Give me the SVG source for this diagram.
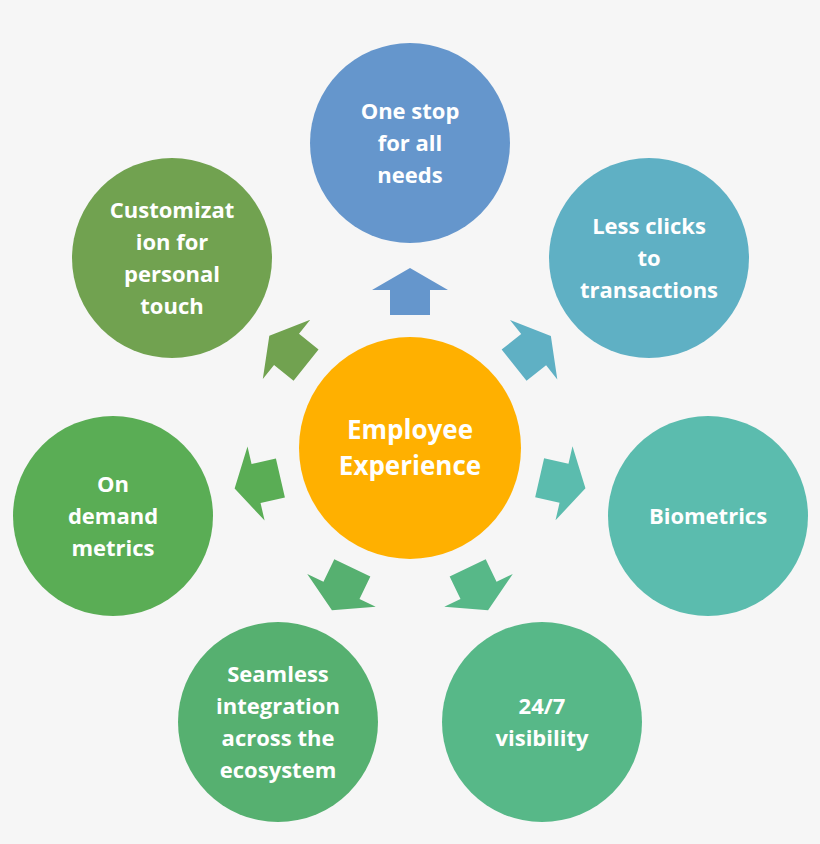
<svg xmlns="http://www.w3.org/2000/svg" width="820" height="844" viewBox="0 0 820 844">
<style>
text{font-family:"Open Sans","Liberation Sans",sans-serif;font-weight:bold;fill:#fff;text-anchor:middle;font-size:22px}
.c{font-size:26px}
</style>
<defs><path id="arr" d="M133,-20 L158,-20 L158,-38 L180,0 L158,38 L158,20 L133,20 Z"/></defs>
<rect width="820" height="844" fill="#f6f6f6"/>
<g id="connectors" transform="translate(410,448)">
<use href="#arr" fill="#6596cc" transform="rotate(-90)"/>
<use href="#arr" fill="#5fb0c4" transform="rotate(-38.5)"/>
<use href="#arr" fill="#5bbcae" transform="rotate(12.9)"/>
<use href="#arr" fill="#57b888" transform="rotate(64.3)"/>
<use href="#arr" fill="#56b070" transform="rotate(115.7)"/>
<use href="#arr" fill="#5aad55" transform="rotate(167)"/>
<use href="#arr" fill="#71a250" transform="rotate(218.6)"/>
</g>
<g id="center"><circle cx="410" cy="448" r="111" fill="#ffb000"/><text class="c" x="410" y="439">Employee</text><text class="c" x="410" y="475">Experience</text></g>
<g id="n1"><circle cx="410" cy="143" r="100" fill="#6596cc"/><text x="410" y="119">One stop</text><text x="410" y="151">for all</text><text x="410" y="183">needs</text></g>
<g id="n2"><circle cx="649" cy="258" r="100" fill="#5fb0c4"/><text x="649" y="234">Less clicks</text><text x="649" y="266">to</text><text x="649" y="298">transactions</text></g>
<g id="n3"><circle cx="708" cy="516" r="100" fill="#5bbcae"/><text x="708" y="524">Biometrics</text></g>
<g id="n4"><circle cx="542" cy="722" r="100" fill="#57b888"/><text x="542" y="714">24/7</text><text x="542" y="746">visibility</text></g>
<g id="n5"><circle cx="278" cy="722" r="100" fill="#56b070"/><text x="278" y="682">Seamless</text><text x="278" y="714">integration</text><text x="278" y="746">across the</text><text x="278" y="778">ecosystem</text></g>
<g id="n6"><circle cx="113" cy="516" r="100" fill="#5aad55"/><text x="113" y="492">On</text><text x="113" y="524">demand</text><text x="113" y="556">metrics</text></g>
<g id="n7"><circle cx="172" cy="258" r="100" fill="#71a250"/><text x="172" y="218">Customizat</text><text x="172" y="250">ion for</text><text x="172" y="282">personal</text><text x="172" y="314">touch</text></g>
</svg>
